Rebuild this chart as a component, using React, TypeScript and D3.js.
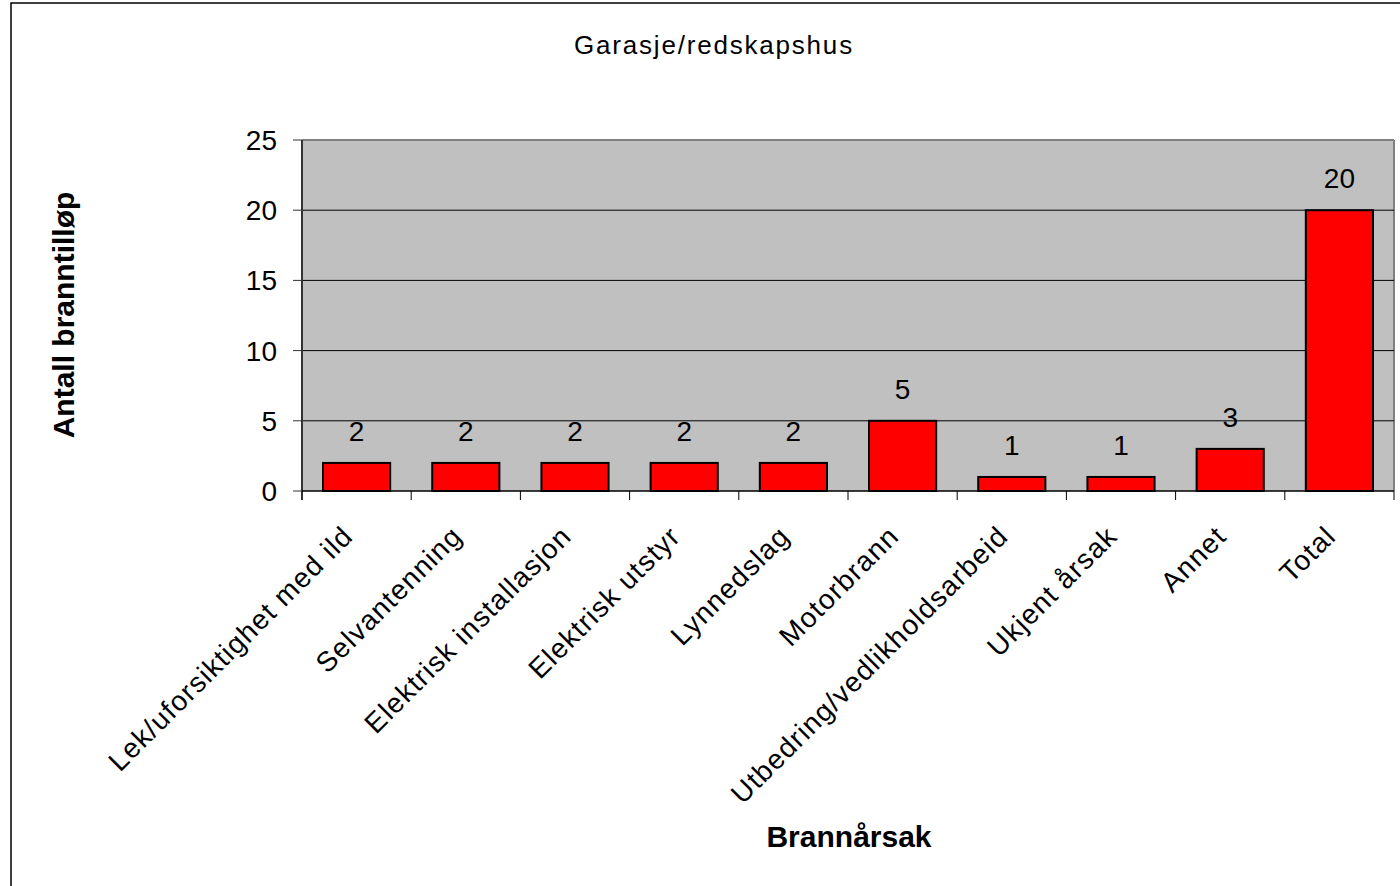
import React from "react";
import * as d3 from "d3";

const categories = [
  "Lek/uforsiktighet med ild",
  "Selvantenning",
  "Elektrisk installasjon",
  "Elektrisk utstyr",
  "Lynnedslag",
  "Motorbrann",
  "Utbedring/vedlikholdsarbeid",
  "Ukjent årsak",
  "Annet",
  "Total",
];
const values = [2, 2, 2, 2, 2, 5, 1, 1, 3, 20];
const yTicks = [0, 5, 10, 15, 20, 25];
const title = "Garasje/redskapshus";
const yTitle = "Antall branntilløp";
const xTitle = "Brannårsak";

export default function App() {
  const W = 1400, H = 886;
  const left = 302, right = 1394, top = 140, bottom = 491;
  const font = "'Liberation Sans', Arial, sans-serif";

  const x = d3.scaleBand<string>().domain(categories).range([left, right]).paddingInner(0.385).paddingOuter(0.1925);
  const band = d3.scaleBand<string>().domain(categories).range([left, right]).padding(0);
  const y = d3.scaleLinear().domain([0, 25]).range([bottom, top]);

  return (
    <svg width={W} height={H} style={{ position: "absolute", left: 0, top: 0 }} fontFamily={font}>
      <rect x={0} y={0} width={W} height={H} fill="#fff" />
      <rect x={11} y={3} width={W + 20} height={H + 20} fill="none" stroke="#000" strokeWidth={1.5} />
      <text x={714} y={54} textAnchor="middle" fontSize={26} letterSpacing={1.8} fill="#000">{title}</text>

      <rect x={left} y={top} width={right - left} height={bottom - top} fill="#c0c0c0" />
      <line x1={left} x2={right} y1={top} y2={top} stroke="#808080" strokeWidth={2} />
      <line x1={right} x2={right} y1={top} y2={bottom} stroke="#808080" strokeWidth={2} />
      {yTicks.filter(t => t > 0 && t < 25).map(t => (
        <line key={t} x1={left} x2={right} y1={y(t)} y2={y(t)} stroke="#000" strokeWidth={1} />
      ))}
      {yTicks.map(t => (
        <g key={"yt" + t}>
          <line x1={left - 9} x2={left} y1={y(t)} y2={y(t)} stroke="#333" strokeWidth={1} />
          <text x={277} y={y(t)} dy="0.36em" textAnchor="end" fontSize={28} fill="#000">{t}</text>
        </g>
      ))}

      {categories.map((c, i) => (
        <g key={c}>
          <rect x={x(c)!} y={y(values[i])} width={x.bandwidth()} height={bottom - y(values[i])} fill="#ff0000" stroke="#000" strokeWidth={2} />
          <text x={x(c)! + x.bandwidth() / 2} y={y(values[i]) - 22} textAnchor="middle" fontSize={28} fill="#000">{values[i]}</text>
        </g>
      ))}

      <line x1={left} x2={left} y1={top} y2={bottom + 9} stroke="#333" strokeWidth={2} />
      <line x1={left} x2={right} y1={bottom} y2={bottom} stroke="#000" strokeWidth={1.5} />
      {categories.map((c, i) => (
        <line key={"xt" + i} x1={band(c)! + band.bandwidth()} x2={band(c)! + band.bandwidth()} y1={bottom} y2={bottom + 9} stroke="#000" strokeWidth={1} />
      ))}
      {categories.map(c => {
        const cx = band(c)! + band.bandwidth() / 2 - 2;
        return (
          <text key={"xl" + c} transform={`translate(${cx},538) rotate(-45)`} textAnchor="end" fontSize={28} letterSpacing={1.2} fill="#000">{c}</text>
        );
      })}

      <text transform={`translate(74,315) rotate(-90)`} textAnchor="middle" fontSize={30} fontWeight="bold" fill="#000">{yTitle}</text>
      <text x={849} y={847} textAnchor="middle" fontSize={30} fontWeight="bold" fill="#000">{xTitle}</text>
    </svg>
  );
}
